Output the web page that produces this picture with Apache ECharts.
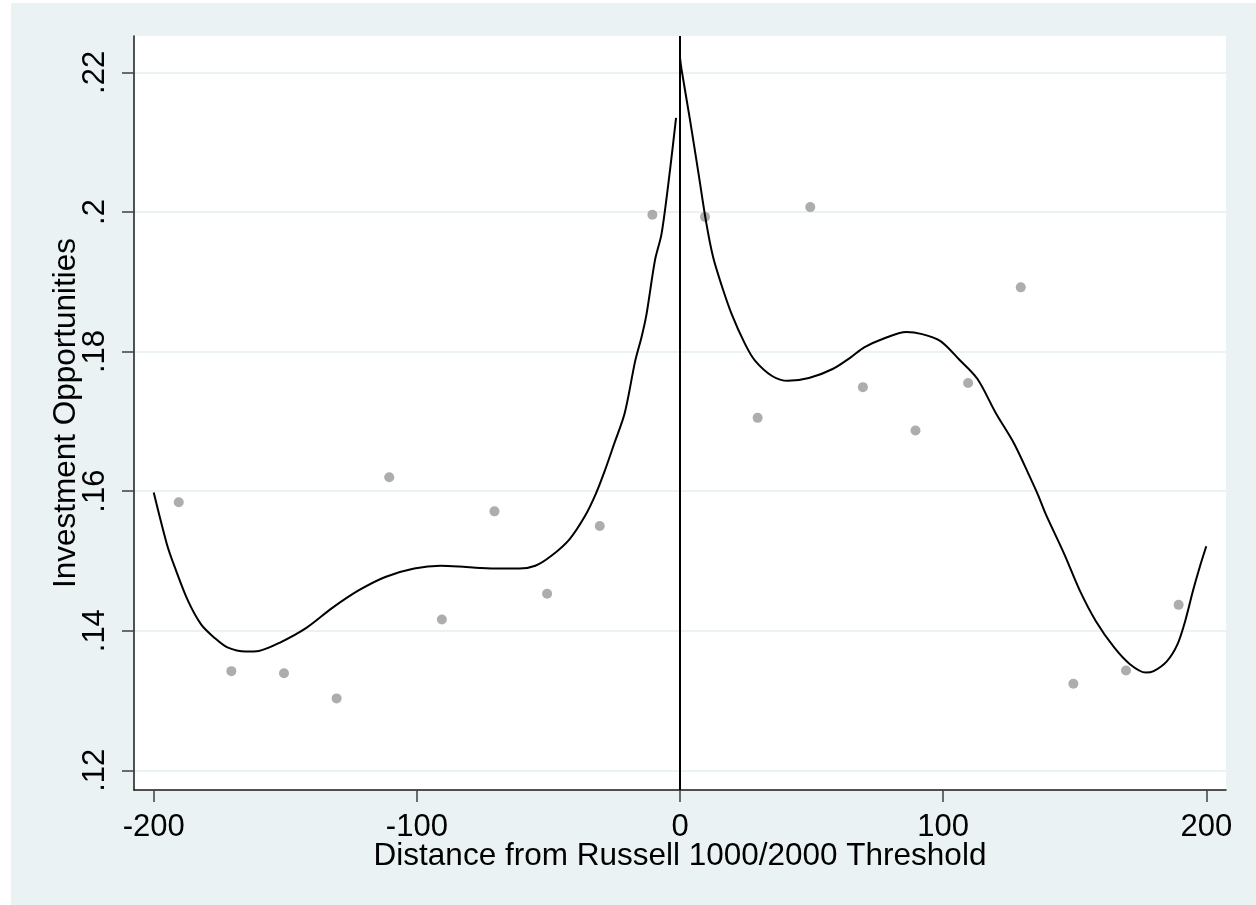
<!DOCTYPE html>
<html>
<head>
<meta charset="utf-8">
<script src="https://cdn.jsdelivr.net/npm/echarts@6/dist/echarts.min.js"></script>
<style>
  html, body { margin: 0; padding: 0; background: #fff; }
  #chart { position: absolute; left: 11px; top: 3px; width: 1245px; height: 902px; }
</style>
</head>
<body>
<div id="chart"></div>
<script>
// binned means, 20 per bin
var binX = [-190.5, -170.5, -150.5, -130.5, -110.5, -90.5, -70.5, -50.5, -30.5, -10.5,
            9.5, 29.5, 49.5, 69.5, 89.5, 109.5, 129.5, 149.5, 169.5, 189.5];
var binY = [.1584, .1342, .1339, .1303, .1620, .1416, .1571, .1453, .1550, .1996,
            .1993, .1705, .2007, .1749, .1687, .1755, .1892, .1324, .1343, .1437];

// fitted curve left of threshold
var leftX = [-200, -195, -192, -187, -182, -177, -172, -165, -160, -152, -142, -132, -122, -112,
             -101, -91, -84, -76, -69, -61, -55, -49, -42, -36, -32, -28.5, -25, -21, -17,
             -14.6, -12.7, -9.5, -7, -3.8, -1.5];
var leftY = [.1598, .1524, .1491, .1443, .1409, .1390, .1376, .1370, .1371, .1383, .1404, .1433, .1458, .1477,
             .1489, .1493, .1492, .1490, .1489, .1489, .1493, .1507, .1531, .1565, .1596, .1630, .1668, .1712, .1787,
             .1821, .1854, .1931, .1969, .2060, .2135];

// fitted curve right of threshold
var rightX = [0, 0.6, 3.8, 7, 10, 12.6, 15.8, 19.6, 24.7, 28.5, 35, 41, 49, 58, 65, 70, 77, 86, 92, 99,
              106, 113, 120, 127, 133, 136, 139, 146, 152, 158, 165, 171, 177, 180, 185, 189, 192, 195, 197.5, 200];
var rightY = [.2221, .2204, .2132, .2056, .1984, .1935, .1895, .1854, .1811, .1787, .1765, .1758, .1762, .1775, .1792, .1806, .1818, .1828, .1825, .1815,
              .1789, .1761, .1712, .1668, .1620, .1595, .1567, .1510, .1457, .1414, .1376, .1352, .1340, .1342, .1356, .1380, .1414, .1458, .1491, .1521];

var xTicks = [-200, -100, 0, 100, 200];
var yTicks = [.12, .14, .16, .18, .2, .22];

function pairs(xs, ys) {
    var out = [];
    for (var i = 0; i < xs.length; i++) out.push([xs[i], ys[i]]);
    return out;
}

var myChart = echarts.init(document.getElementById('chart'));
var font = '"Liberation Sans", Arial, sans-serif';
var option = {
    backgroundColor: '#EAF2F3',
    animation: false,
    grid: {
        left: 123,
        top: 33,
        right: 30,
        bottom: 115,
        show: true,
        backgroundColor: '#fff',
        borderWidth: 0
    },
    xAxis: {
        type: 'value',
        min: -207.5,
        max: 207.5,
        name: 'Distance from Russell 1000/2000 Threshold',
        nameLocation: 'middle',
        nameGap: 50,
        nameMoveOverlap: false,
        nameTextStyle: { fontFamily: font, fontSize: 31.5, color: '#000' },
        axisLine: { show: true, onZero: false, lineStyle: { color: '#1a1a1a', width: 1.5 } },
        axisTick: { show: true, length: 12, customValues: xTicks, lineStyle: { color: '#404040', width: 1.5 } },
        axisLabel: { customValues: xTicks, margin: 22, fontFamily: font, fontSize: 31, color: '#000' },
        splitLine: { show: false }
    },
    yAxis: {
        type: 'value',
        min: .11717,
        max: .22522,
        name: 'Investment Opportunities',
        nameLocation: 'middle',
        nameRotate: 90,
        nameGap: 52,
        nameMoveOverlap: false,
        nameTextStyle: { fontFamily: font, fontSize: 31.5, color: '#000' },
        axisLine: { show: true, onZero: false, lineStyle: { color: '#1a1a1a', width: 1.5 } },
        axisTick: { show: true, length: 12, customValues: yTicks, lineStyle: { color: '#404040', width: 1.5 } },
        axisLabel: {
            customValues: yTicks,
            rotate: 90,
            margin: 23,
            fontFamily: font,
            fontSize: 31,
            color: '#000',
            formatter: function (v) {
                return String(+v.toFixed(2)).replace(/^0/, '');
            }
        },
        splitLine: { show: true, lineStyle: { color: '#EAF2F3', width: 2 } }
    },
    series: [
        {
            type: 'scatter',
            symbol: 'circle',
            symbolSize: 10,
            itemStyle: { color: '#999999' },
            data: pairs(binX, binY),
            markLine: {
                silent: true,
                symbol: 'none',
                label: { show: false },
                lineStyle: { color: '#000', width: 2, type: 'solid' },
                data: [{ xAxis: 0 }]
            }
        },
        {
            type: 'line',
            showSymbol: false,
            smooth: 0.3,
            lineStyle: { color: '#000', width: 2 },
            data: pairs(leftX, leftY)
        },
        {
            type: 'line',
            showSymbol: false,
            smooth: 0.3,
            lineStyle: { color: '#000', width: 2 },
            data: pairs(rightX, rightY)
        }
    ]
};
myChart.setOption(option);
</script>
</body>
</html>
